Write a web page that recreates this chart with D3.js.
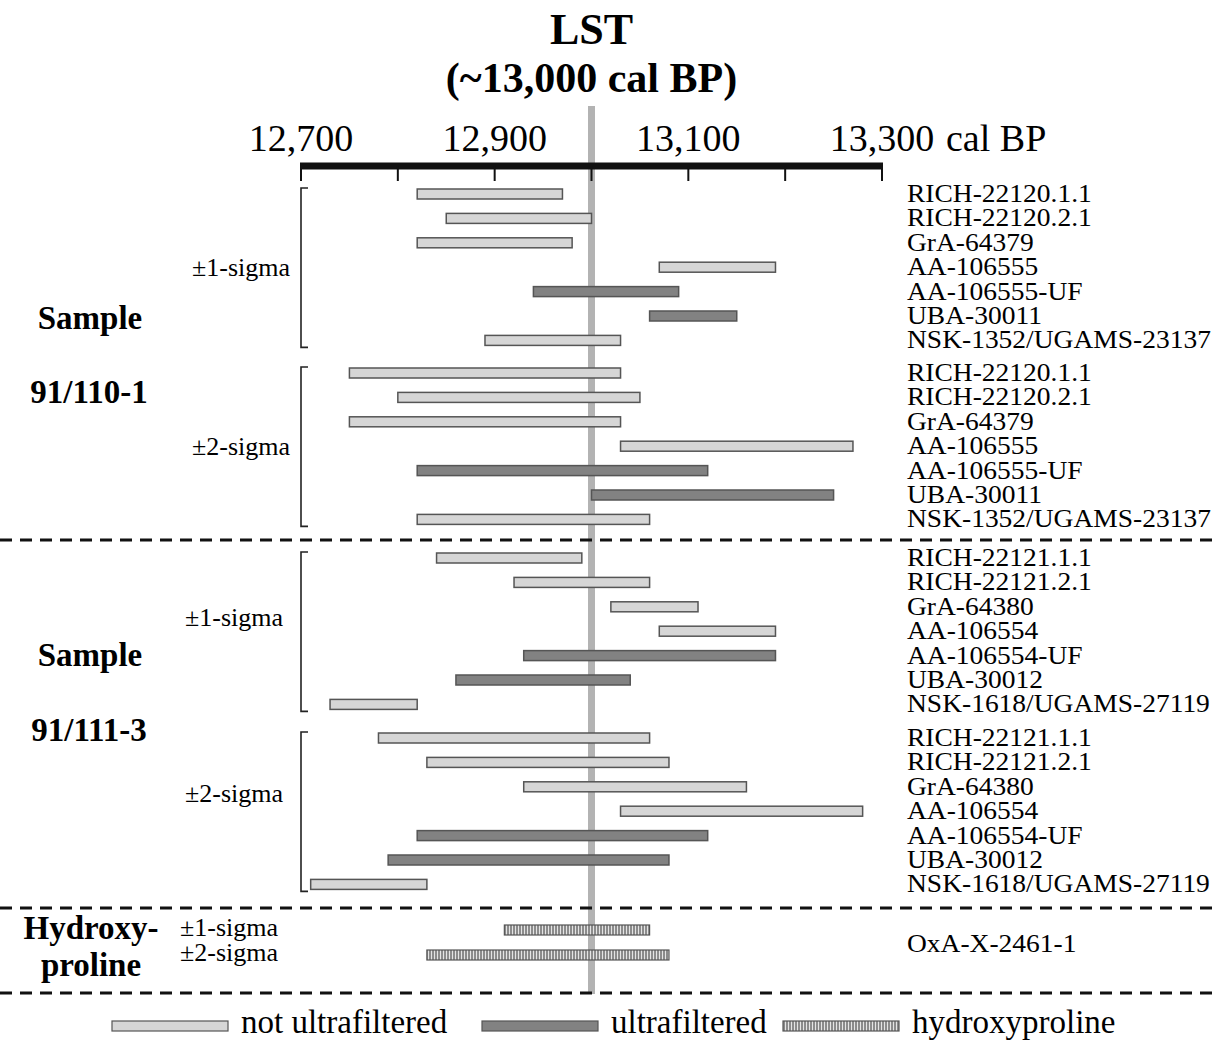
<!DOCTYPE html>
<html>
<head>
<meta charset="utf-8">
<script src="https://cdn.jsdelivr.net/npm/d3@7"></script>
<style>
  body { margin: 0; background: #fff; }
  svg { display: block; font-family: "Liberation Serif", "Times New Roman", serif; }
</style>
</head>
<body>
<svg id="chart" width="1218" height="1040"></svg>
<script>
// ---- data (cal BP ranges) ----
const tickYears = [12700, 12800, 12900, 13000, 13100, 13200, 13300];
const labelYears = [12700, 12900, 13100, 13300];

const labels110 = ["RICH-22120.1.1", "RICH-22120.2.1", "GrA-64379", "AA-106555", "AA-106555-UF", "UBA-30011", "NSK-1352/UGAMS-23137"];
const uf110 = [false, false, false, false, true, true, false];
const sigma1_110 = [[12820, 12970], [12850, 13000], [12820, 12980], [13070, 13190], [12940, 13090], [13060, 13150], [12890, 13030]];
const sigma2_110 = [[12750, 13030], [12800, 13050], [12750, 13030], [13030, 13270], [12820, 13120], [13000, 13250], [12820, 13060]];

const labels111 = ["RICH-22121.1.1", "RICH-22121.2.1", "GrA-64380", "AA-106554", "AA-106554-UF", "UBA-30012", "NSK-1618/UGAMS-27119"];
const uf111 = [false, false, false, false, true, true, false];
const sigma1_111 = [[12840, 12990], [12920, 13060], [13020, 13110], [13070, 13190], [12930, 13190], [12860, 13040], [12730, 12820]];
const sigma2_111 = [[12780, 13060], [12830, 13080], [12930, 13160], [13030, 13280], [12820, 13120], [12790, 13080], [12710, 12830]];

const hypLabel = "OxA-X-2461-1";
const hypSigma1 = [12910, 13060];
const hypSigma2 = [12830, 13080];

const lstYear = 13000;

// ---- setup ----
const svg = d3.select("#chart");
const x = d3.scaleLinear().domain([12700, 13300]).range([301, 882]);

const lightFill = "#d6d6d6", darkFill = "#828282", barStroke = "#555";
const barH = 10, rowStep = 24.4;

const defs = svg.append("defs");
const hatch = defs.append("pattern")
  .attr("id", "hatch")
  .attr("patternUnits", "userSpaceOnUse")
  .attr("width", 3).attr("height", 10);
hatch.append("rect").attr("width", 3).attr("height", 10).attr("fill", "#e4e4e4");
hatch.append("line").attr("x1", 1).attr("x2", 1).attr("y1", 0).attr("y2", 10)
  .attr("stroke", "#333").attr("stroke-width", 1);

// LST reference line
svg.append("line")
  .attr("x1", x(lstYear)).attr("x2", x(lstYear))
  .attr("y1", 106).attr("y2", 994)
  .attr("stroke", "#b3b3b3").attr("stroke-width", 7);

// title
svg.append("text").attr("x", x(lstYear)).attr("y", 44)
  .attr("text-anchor", "middle").attr("font-weight", "bold").attr("font-size", 44)
  .text("LST");
svg.append("text").attr("x", x(lstYear)).attr("y", 92)
  .attr("text-anchor", "middle").attr("font-weight", "bold").attr("font-size", 42)
  .text("(~13,000 cal BP)");

// axis
const axis = svg.append("g").attr("transform", "translate(0,166)");
axis.append("line").attr("x1", x(12700) - 1).attr("x2", x(13300) + 1)
  .attr("stroke", "#111").attr("stroke-width", 7);
axis.selectAll(".tk").data(tickYears).enter().append("line")
  .attr("x1", d => x(d)).attr("x2", d => x(d))
  .attr("y1", 0).attr("y2", 15)
  .attr("stroke", "#111").attr("stroke-width", 2);
axis.selectAll(".lbl").data(labelYears).enter().append("text")
  .attr("x", d => x(d)).attr("y", -15)
  .attr("text-anchor", "middle").attr("font-size", 38)
  .text(d => d3.format(",")(d));
axis.append("text").attr("x", x(13300) + 64).attr("y", -15)
  .attr("font-size", 38).text("cal BP");

// ---- rows ----
function drawGroup(y0, ranges, uf, labels, sigmaText, sigmaX, sigmaY) {
  const y = d3.scaleLinear().domain([0, ranges.length - 1]).range([y0, y0 + rowStep * (ranges.length - 1)]);
  const g = svg.append("g");
  g.selectAll("rect").data(ranges).enter().append("rect")
    .attr("x", d => x(d[0]))
    .attr("y", (d, i) => y(i) - barH / 2)
    .attr("width", d => x(d[1]) - x(d[0]))
    .attr("height", barH)
    .attr("fill", (d, i) => uf[i] ? darkFill : lightFill)
    .attr("stroke", barStroke).attr("stroke-width", 1.5);
  g.selectAll("text.code").data(labels).enter().append("text")
    .attr("class", "code")
    .attr("transform", (d, i) => `translate(907,${y(i) + 8}) scale(1.1,1)`)
    .attr("font-size", 25).text(d => d);
  // bracket
  const top = y(0) - 6, bot = y(ranges.length - 1) + 7;
  g.append("path")
    .attr("d", `M308,${top}H301V${bot}H308`)
    .attr("fill", "none").attr("stroke", "#222").attr("stroke-width", 1.6);
  g.append("text").attr("x", sigmaX).attr("y", sigmaY)
    .attr("font-size", 26).text(sigmaText);
}

drawGroup(194, sigma1_110, uf110, labels110, "±1-sigma", 192, 276);
drawGroup(373, sigma2_110, uf110, labels110, "±2-sigma", 192, 455);
drawGroup(558, sigma1_111, uf111, labels111, "±1-sigma", 185, 626);
drawGroup(738, sigma2_111, uf111, labels111, "±2-sigma", 185, 802);

// hydroxyproline rows
const hypRows = [hypSigma1, hypSigma2];
const yHyp = d3.scaleLinear().domain([0, 1]).range([930, 955]);
svg.selectAll("rect.hyp").data(hypRows).enter().append("rect")
  .attr("class", "hyp")
  .attr("x", d => x(d[0]))
  .attr("y", (d, i) => yHyp(i) - barH / 2)
  .attr("width", d => x(d[1]) - x(d[0]))
  .attr("height", barH)
  .attr("fill", "url(#hatch)")
  .attr("stroke", barStroke).attr("stroke-width", 1.2);
svg.selectAll("text.hypsig").data(["±1-sigma", "±2-sigma"]).enter().append("text")
  .attr("x", 180).attr("y", (d, i) => yHyp(i) + 6)
  .attr("font-size", 26).text(d => d);
svg.append("text").attr("transform", "translate(907,952) scale(1.1,1)")
  .attr("font-size", 25).text(hypLabel);

// section labels
const bold = (txt, cx, y) => svg.append("text").attr("x", cx).attr("y", y)
  .attr("text-anchor", "middle").attr("font-weight", "bold").attr("font-size", 33).text(txt);
bold("Sample", 90, 329);
bold("91/110-1", 89, 403);
bold("Sample", 90, 666);
bold("91/111-3", 89, 741);
bold("Hydroxy-", 91, 939);
bold("proline", 91, 976);

// dashed separators
[540, 908, 993].forEach(yy => {
  svg.append("line").attr("x1", 0).attr("x2", 1218).attr("y1", yy).attr("y2", yy)
    .attr("stroke", "#111").attr("stroke-width", 3).attr("stroke-dasharray", "12,8");
});

// legend
const legendItems = [
  { label: "not ultrafiltered", fill: lightFill, x: 112 },
  { label: "ultrafiltered", fill: darkFill, x: 482 },
  { label: "hydroxyproline", fill: "url(#hatch)", x: 783 }
];
const legend = svg.append("g").attr("transform", "translate(0,1026)");
legendItems.forEach(it => {
  legend.append("rect").attr("x", it.x).attr("y", -5).attr("width", 116).attr("height", 10)
    .attr("fill", it.fill).attr("stroke", barStroke).attr("stroke-width", 1.2);
  legend.append("text").attr("x", it.x + 129).attr("y", 7)
    .attr("font-size", 33).text(it.label);
});
</script>
</body>
</html>
